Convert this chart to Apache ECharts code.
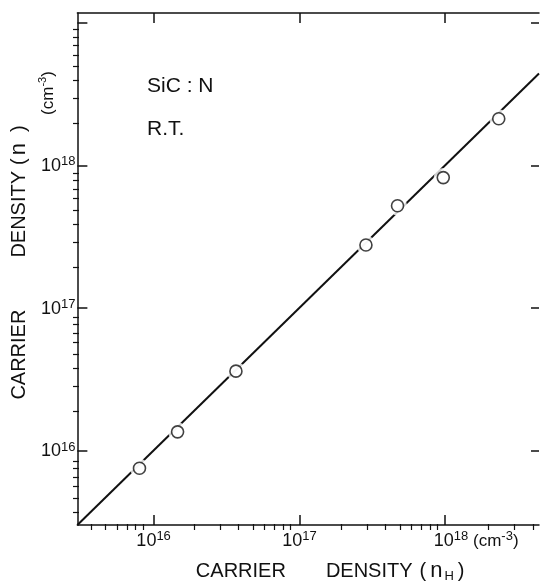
<!DOCTYPE html>
<html><head><meta charset="utf-8">
<script src="https://cdn.jsdelivr.net/npm/echarts@6/dist/echarts.min.js"></script>
<style>html,body{margin:0;padding:0;background:#fff}#c{width:540px;height:588px}</style>
</head><body><div id="c"></div>
<script>
// Hall carrier density n_H (x) vs carrier density n (y), cm^-3
const hallDensity = [8.0e15, 1.46e16, 3.67e16, 2.86e17, 4.71e17, 9.7e17, 2.33e18];
const carrierDensity = [7.5e15, 1.35e16, 3.6e16, 2.76e17, 5.2e17, 8.2e17, 2.12e18];
// fitted line n = n_H
const fitX = [3e15, 4.4e18];
const fitY = [3e15, 4.4e18];
const xRange = [3e15, 4.4e18];
const yRange = [3e15, 1.17e19];
const xMajorTicks = [1e16, 1e17, 1e18];
const yMajorTicks = [1e16, 1e17, 1e18, 1e19];
const xTickLabels = [1e16, 1e17, 1e18];
const yTickLabels = [1e16, 1e17, 1e18];
const minorMultipliers = [2, 3, 4, 5, 6, 7, 8, 9];
const decadeStarts = [1e15, 1e16, 1e17, 1e18];

const FONT = '"Liberation Sans", Arial, sans-serif';
const INK = '#111';

function minorTicks(range) {
  const out = [];
  decadeStarts.forEach(d => minorMultipliers.forEach(m => {
    const v = d * m;
    if (v > range[0] && v < range[1]) out.push(v);
  }));
  return out;
}
function expOf(v) { return Math.round(Math.log10(v)); }

const labelRich = {
  b: { fontSize: 18, fontFamily: FONT, color: INK, lineHeight: 20, verticalAlign: 'bottom' },
  s: { fontSize: 13, fontFamily: FONT, color: INK, lineHeight: 13, verticalAlign: 'top' },
  u: { fontSize: 17, fontFamily: FONT, color: INK, lineHeight: 20, verticalAlign: 'bottom' },
  sp: { width: 62, fontSize: 12 }
};

const baseAxis = (pos, range, grid) => ({
  type: 'log', logBase: 10, min: range[0], max: range[1], position: pos, gridIndex: grid,
  splitLine: { show: false }, axisPointer: { show: false }
});

const xAxes = [
  Object.assign(baseAxis('bottom', xRange, 0), {
    axisLine: { show: true, lineStyle: { color: INK, width: 1.5 } },
    axisTick: { show: true, inside: true, length: 10, customValues: xMajorTicks, lineStyle: { color: INK, width: 1.5 } },
    axisLabel: {
      show: true, margin: 5, customValues: xTickLabels,
      formatter: v => {
        const e = expOf(v);
        return e === 18 ? '{sp| }{b|10}{s|' + e + '}{u| (cm}{s|-3}{u|)}' : '{b|10}{s|' + e + '}';
      },
      rich: labelRich
    },
    name: '{sp2| }{t|CARRIER}{g1| }{t|DENSITY}{g2| }{t|(}{i|n}{sub|H}{t|)}',
    nameLocation: 'middle', nameGap: 34,
    nameTextStyle: {
      rich: {
        t: { fontSize: 20, fontFamily: FONT, color: INK, lineHeight: 24 },
        i: { fontSize: 22, fontFamily: FONT, color: INK, lineHeight: 24, padding: [0, 2, 0, 4] },
        sub: { fontSize: 13, fontFamily: FONT, color: INK, lineHeight: 14, verticalAlign: 'bottom', padding: [0, 4, 0, 0] },
        g1: { width: 40 }, g2: { width: 7 }, sp2: { width: 44 }
      }
    }
  }),
  Object.assign(baseAxis('top', xRange, 0), {
    axisLine: { show: true, lineStyle: { color: INK, width: 1.5 } },
    axisTick: { show: true, inside: true, length: 10, customValues: xMajorTicks, lineStyle: { color: INK, width: 1.5 } },
    axisLabel: { show: false }
  }),
  Object.assign(baseAxis('bottom', xRange, 1), {
    axisLine: { show: false },
    axisTick: { show: true, inside: true, length: 6, customValues: minorTicks(xRange), lineStyle: { color: INK, width: 1.2 } },
    axisLabel: { show: false }
  })
];

const yAxes = [
  Object.assign(baseAxis('left', yRange, 0), {
    axisLine: { show: true, lineStyle: { color: INK, width: 1.5 } },
    axisTick: { show: true, inside: true, length: 10, customValues: yMajorTicks, lineStyle: { color: INK, width: 1.5 } },
    axisLabel: {
      show: true, margin: 2, customValues: yTickLabels,
      formatter: v => '{b|10}{s|' + expOf(v) + '}',
      rich: labelRich
    },
    name: '{g0| }{t|CARRIER}{g1| }{t|DENSITY}{g2| }{t|(}{i|n}{g3| }{t|)}',
    nameLocation: 'middle', nameRotate: 90, nameGap: 42,
    nameTextStyle: {
      rich: {
        t: { fontSize: 20, fontFamily: FONT, color: INK, lineHeight: 24 },
        i: { fontSize: 22, fontFamily: FONT, color: INK, lineHeight: 24, padding: [0, 0, 0, 3] },
        g0: { width: 13 }, g1: { width: 52 }, g2: { width: 6 }, g3: { width: 11 }
      }
    }
  }),
  Object.assign(baseAxis('right', yRange, 0), {
    axisLine: { show: false },
    axisTick: { show: true, inside: true, length: 8, customValues: yMajorTicks, lineStyle: { color: INK, width: 1.5 } },
    axisLabel: { show: false }
  }),
  Object.assign(baseAxis('left', yRange, 1), {
    axisLine: { show: false },
    axisTick: { show: true, inside: true, length: 6, customValues: minorTicks(yRange), lineStyle: { color: INK, width: 1.2 } },
    axisLabel: { show: false }
  })
];

const points = hallDensity.map((x, i) => [x, carrierDensity[i]]);
const linePts = fitX.map((x, i) => [x, fitY[i]]);
const gridRect = { left: 73, right: 1, top: 13, bottom: 58, containLabel: false };

const chart = echarts.init(document.getElementById('c'), null, { renderer: 'canvas' });
chart.setOption({
  animation: false,
  backgroundColor: '#fff',
  grid: [Object.assign({}, gridRect), Object.assign({}, gridRect)],
  xAxis: xAxes,
  yAxis: yAxes,
  graphic: [
    { type: 'text', left: 147, top: 76, style: { text: 'SiC : N', font: '21px ' + FONT, fill: INK } },
    { type: 'text', left: 147, top: 119, style: { text: 'R.T.', font: '21px ' + FONT, fill: INK } },
    {
      type: 'text', x: 47, y: 93, rotation: Math.PI / 2,
      style: {
        text: '{u|(cm}{s|-3}{u|)}', align: 'center', verticalAlign: 'middle',
        rich: {
          u: { fontSize: 17, fontFamily: FONT, fill: INK, lineHeight: 20, verticalAlign: 'bottom' },
          s: { fontSize: 11, fontFamily: FONT, fill: INK, lineHeight: 11, verticalAlign: 'top' }
        }
      }
    }
  ],
  series: [
    {
      type: 'line', data: linePts, xAxisIndex: 0, yAxisIndex: 0, showSymbol: false, symbol: 'none',
      lineStyle: { color: INK, width: 2 }, z: 2, silent: true
    },
    {
      type: 'scatter', data: points, xAxisIndex: 0, yAxisIndex: 0, symbol: 'circle', symbolSize: 19,
      itemStyle: { color: '#fff', borderWidth: 0 }, z: 3, silent: true
    },
    {
      type: 'scatter', data: points, xAxisIndex: 0, yAxisIndex: 0, symbol: 'circle', symbolSize: 12,
      itemStyle: { color: '#fff', borderColor: INK, borderWidth: 1.6 }, z: 4, silent: true
    }
  ]
});
</script>
</body></html>
